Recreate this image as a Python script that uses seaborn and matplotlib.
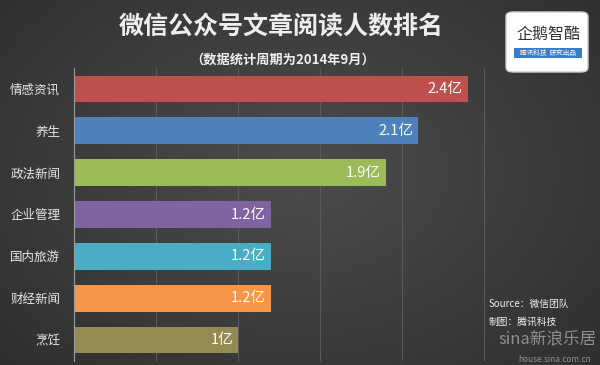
import numpy as np
import pandas as pd
import matplotlib.pyplot as plt
import seaborn as sns
from matplotlib.patches import FancyBboxPatch

categories = ['情感资讯', '养生', '政法新闻', '企业管理', '国内旅游', '财经新闻', '烹饪']
values = [2.4, 2.1, 1.9, 1.2, 1.2, 1.2, 1.0]
value_labels = ['2.4亿', '2.1亿', '1.9亿', '1.2亿', '1.2亿', '1.2亿', '1亿']
colors = ['#c0504d', '#4f81bd', '#9bbb59', '#8064a2', '#4bacc6', '#f79646', '#948a54']

sns.set_style('dark')
plt.rcParams['font.family'] = ['Noto Sans CJK SC', 'DejaVu Sans']
plt.rcParams['axes.unicode_minus'] = False

df = pd.DataFrame({'类别': categories, '人数': values})

fig = plt.figure(figsize=(6, 3.65), dpi=100)

# 背景渐变
bg = fig.add_axes([0, 0, 1, 1], zorder=0)
yy, xx = np.mgrid[0:365, 0:600]
dist = np.sqrt(((xx - 300) / 420.0) ** 2 + ((yy - 170) / 300.0) ** 2)
shade = 0.30 - 0.12 * dist
bg.imshow(np.dstack([shade] * 3).clip(0, 1), aspect='auto', extent=[0, 1, 0, 1])
bg.axis('off')

ax = fig.add_axes([74 / 600, 1 - 361 / 365, (566 - 74) / 600, (361 - 68) / 365], zorder=1)
ax.patch.set_alpha(0)
sns.barplot(data=df, x='人数', y='类别', hue='类别', palette=colors, legend=False,
            orient='h', width=0.64, saturation=1, linewidth=0, ax=ax)

ax.set_xlim(0, 3)
ax.set_xticks(np.arange(0.5, 3.01, 0.5))
ax.set_xticklabels([])
ax.tick_params(axis='x', length=0)
ax.tick_params(axis='y', length=0, pad=10, labelsize=9, labelcolor='#e6e6e6')
ax.grid(axis='x', color='#5a5a5a', linewidth=0.8)
ax.grid(axis='y', visible=False)
ax.set_axisbelow(True)
ax.set_xlabel('')
ax.set_ylabel('')
for s in ['top', 'right', 'bottom']:
    ax.spines[s].set_visible(False)
ax.spines['left'].set_color('#9a9a9a')
ax.spines['left'].set_linewidth(0.8)

for i, (v, lab) in enumerate(zip(values, value_labels)):
    ax.text(v - 0.03, i, lab, ha='right', va='center', color='white', fontsize=10.5)

# 标题
fig.text(0.469, 0.925, '微信公众号文章阅读人数排名', ha='center', va='center',
         color='#eeeeee', fontsize=18, fontweight='bold')
fig.text(0.471, 0.838, '（数据统计周期为2014年9月）', ha='center', va='center',
         color='#eeeeee', fontsize=9.5, fontweight='bold')

# 右上角标志
logo = FancyBboxPatch((506 / 600, 1 - 72 / 365), 82 / 600, 60 / 365,
                      boxstyle='round,pad=0,rounding_size=0.012',
                      transform=fig.transFigure, facecolor='white', edgecolor='#cccccc',
                      zorder=3)
fig.patches.append(logo)
fig.text(548 / 600, 1 - 34 / 365, '企鹅智酷', ha='center', va='center',
         color='#333333', fontsize=11.5, zorder=4)
band = FancyBboxPatch((514 / 600, 1 - 58 / 365), 68 / 600, 10 / 365,
                      boxstyle='square,pad=0', transform=fig.transFigure,
                      facecolor='#3a7cc8', edgecolor='none', zorder=4)
fig.patches.append(band)
fig.text(548 / 600, 1 - 53 / 365, '腾讯科技  研究出品', ha='center', va='center',
         color='white', fontsize=4.8, style='italic', zorder=5)

# 来源
fig.text(0.815, 0.167, 'Source：微信团队', ha='left', va='center',
         color='#f0f0f0', fontsize=7, style='italic')
fig.text(0.815, 0.118, '制图：腾讯科技', ha='left', va='center',
         color='#f0f0f0', fontsize=7, style='italic')

# 水印
fig.text(0.995, 0.072, 'sina新浪乐居', ha='right', va='center',
         color='#a0a0a0', fontsize=12, alpha=0.85)
fig.text(0.985, 0.003, 'house.sina.com.cn', ha='right', va='bottom',
         color='#a0a0a0', fontsize=6, style='italic', alpha=0.85)

fig.savefig('out.png', dpi=100)
